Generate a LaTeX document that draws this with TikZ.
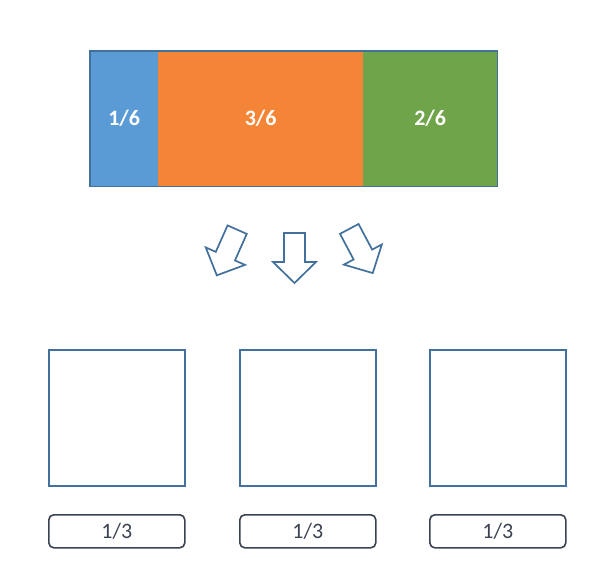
\documentclass[tikz,border=0pt]{standalone}
\usepackage{fontspec}
\setmainfont{Carlito}
\definecolor{cblue}{HTML}{5B9BD5}
\definecolor{corange}{HTML}{F58536}
\definecolor{cgreen}{HTML}{70A44A}
\definecolor{cedge}{HTML}{41719C}
\definecolor{ctext}{HTML}{3B4352}
\tikzset{
  seg/.style={draw=none, minimum height=135pt, inner sep=0pt, font=\fontsize{22}{25}\selectfont\bfseries, text=white, anchor=north west},
  bin/.style={draw=cedge, line width=1.5pt, fill=white, minimum width=136pt, minimum height=136pt, inner sep=0pt, anchor=north west},
  lab/.style={draw=ctext, line width=1.6pt, rounded corners=5pt, minimum width=136pt, minimum height=33pt, inner sep=0pt, anchor=north west, font=\fontsize{22}{25}\selectfont, text=ctext},
  fatarrow/.style={draw=cedge, line width=1.7pt, fill=white, line join=miter},
  pics/downarrow/.style={code={
    \draw[fatarrow] (-10.5,-25) -- (10.5,-25) -- (10.5,4) -- (21.5,4) -- (0,25) -- (-21.5,4) -- (-10.5,4) -- cycle;
  }}
}
\begin{document}
\begin{tikzpicture}[x=1pt,y=-1pt]
\useasboundingbox (0,0) rectangle (600,562);
% top bar
\node[seg, fill=cblue, minimum width=68pt] (a) at (90,51) {1/6};
\node[seg, fill=corange, minimum width=205pt] (b) at (158,51) {3/6};
\node[seg, fill=cgreen, minimum width=134pt] (c) at (363,51) {2/6};
\draw[cedge, line width=1.4pt] (a.north west) rectangle (c.south east);
% arrows
\pic[rotate=-24] at (227,252.5) {downarrow};
\pic at (294.5,258) {downarrow};
\pic[rotate=28] at (361,251) {downarrow};
% bins
\node[bin] (s1) at (48,349) {};
\node[bin] (s2) at (239,349) {};
\node[bin] (s3) at (429,349) {};
\node[lab] (l1) at (48,514) {1/3};
\node[lab] (l2) at (239,514) {1/3};
\node[lab] (l3) at (429,514) {1/3};
\end{tikzpicture}
\end{document}
